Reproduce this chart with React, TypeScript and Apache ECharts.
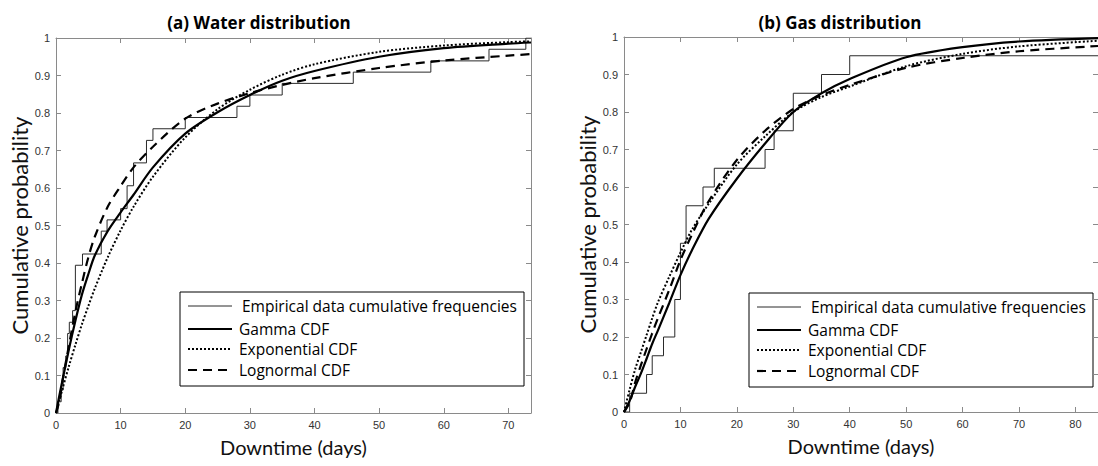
import React, { useEffect, useRef } from "react";
import * as echarts from "echarts";

const WATER_X_MAX = 73.5;
const GAS_X_MAX = 84;

// Empirical step data (downtime in days, cumulative frequency)
const waterEmpDays = [0, 0.3, 0.8, 1.1, 1.5, 1.8, 2.06, 2.57, 3.0, 4.1, 7.0, 7.9, 10.0, 11.0, 12.0, 14.0, 15.0, 20.0, 28.0, 30.0, 35.0, 46.0, 58.0, 67.0, 72.7];
const waterEmpProb = [0, 0.03, 0.061, 0.121, 0.152, 0.212, 0.242, 0.273, 0.394, 0.424, 0.485, 0.515, 0.545, 0.606, 0.667, 0.727, 0.758, 0.788, 0.818, 0.848, 0.879, 0.909, 0.939, 0.97, 1.0];

const gasEmpDays = [0, 1, 4, 5, 7, 9, 10, 11, 14, 16, 25, 26.6, 30, 35, 40];
const gasEmpProb = [0, 0.05, 0.1, 0.15, 0.2, 0.3, 0.45, 0.55, 0.6, 0.65, 0.7, 0.75, 0.85, 0.9, 0.95];

// Fitted CDF curves
const waterCurveDays = [0, 0.5, 1, 2, 3, 4, 5, 6, 8, 10, 12, 15, 20, 25, 30, 35, 40, 50, 60, 70, 73.5];
const waterGamma = [0, 0.045, 0.087, 0.17, 0.246, 0.315, 0.37, 0.42, 0.485, 0.535, 0.582, 0.655, 0.745, 0.802, 0.848, 0.886, 0.912, 0.95, 0.973, 0.985, 0.988];
const waterExp = [0, 0.033, 0.064, 0.125, 0.182, 0.236, 0.285, 0.332, 0.415, 0.487, 0.55, 0.63, 0.735, 0.81, 0.862, 0.902, 0.93, 0.963, 0.98, 0.989, 0.991];
const waterLogn = [0, 0.03, 0.085, 0.18, 0.27, 0.345, 0.415, 0.47, 0.55, 0.605, 0.655, 0.71, 0.785, 0.825, 0.853, 0.875, 0.893, 0.92, 0.94, 0.953, 0.957];

const gasCurveDays = [0, 1, 2, 3, 4, 5, 6, 8, 10, 12, 15, 20, 25, 30, 35, 40, 50, 60, 70, 84];
const gasGamma = [0, 0.03, 0.068, 0.103, 0.142, 0.182, 0.217, 0.29, 0.365, 0.43, 0.515, 0.622, 0.716, 0.8, 0.85, 0.888, 0.946, 0.973, 0.988, 0.997];
const gasExp = [0, 0.06, 0.115, 0.16, 0.205, 0.25, 0.292, 0.36, 0.425, 0.485, 0.555, 0.66, 0.735, 0.8, 0.84, 0.868, 0.922, 0.955, 0.975, 0.99];
const gasLogn = [0, 0.025, 0.08, 0.125, 0.168, 0.21, 0.25, 0.325, 0.405, 0.472, 0.562, 0.672, 0.75, 0.808, 0.845, 0.872, 0.918, 0.944, 0.962, 0.976];

const titles = ["(a) Water distribution", "(b) Gas distribution"];
const legendLabels = ["Empirical data cumulative frequencies", "Gamma CDF", "Exponential CDF", "Lognormal CDF"];

const zip = (xs: number[], ys: number[]) => xs.map((x, i) => [x, ys[i]]);

const FRAME = "#8a8a8a";
const LATO = "Lato, sans-serif";
const OPEN = "'Open Sans', sans-serif";
const TICKFONT = "'Liberation Sans', Arial, sans-serif";

const STYLES = [
  { color: "#2a2a2a", width: 1, type: "solid" as any },
  { color: "#000", width: 2.2, type: "solid" as any },
  { color: "#000", width: 2, type: [2, 2] as any },
  { color: "#000", width: 2.2, type: [9, 6] as any },
];

function xAxis(gridIndex: number, max: number, pos: "bottom" | "top") {
  const bottom = pos === "bottom";
  return {
    type: "value",
    gridIndex,
    min: 0,
    max,
    interval: 10,
    position: pos,
    name: bottom ? "Downtime (days)" : "",
    nameLocation: "middle",
    nameGap: 24,
    nameTextStyle: { fontSize: 20, fontFamily: LATO, color: "#111" },
    axisLine: { show: true, onZero: false, lineStyle: { color: FRAME, width: 1 } },
    axisTick: { show: true, inside: true, length: 5, lineStyle: { color: FRAME } },
    axisLabel: { show: bottom, showMaxLabel: false, fontSize: 11, color: "#333", margin: 6, fontFamily: TICKFONT },
    splitLine: { show: false },
  };
}

function yAxis(gridIndex: number, pos: "left" | "right") {
  const left = pos === "left";
  return {
    type: "value",
    gridIndex,
    min: 0,
    max: 1,
    interval: 0.1,
    position: pos,
    name: left ? "Cumulative probability" : "",
    nameLocation: "middle",
    nameGap: 26,
    nameTextStyle: { fontSize: 22, fontFamily: LATO, color: "#111" },
    axisLine: { show: true, onZero: false, lineStyle: { color: FRAME, width: 1 } },
    axisTick: { show: true, inside: true, length: 5, lineStyle: { color: FRAME } },
    axisLabel: { show: left, fontSize: 11, color: "#333", margin: 6, fontFamily: TICKFONT },
    splitLine: { show: false },
  };
}

function legendGraphic(x0: number, y0: number) {
  const rows = [14, 37, 57, 78];
  const children: any[] = [
    { type: "rect", shape: { x: 0, y: 0, width: 344, height: 94 }, style: { fill: "#fff", stroke: "#000", lineWidth: 1 } },
  ];
  legendLabels.forEach((label, i) => {
    const s = STYLES[i];
    children.push({
      type: "line",
      shape: { x1: 8, y1: rows[i], x2: 52, y2: rows[i] },
      style: { stroke: s.color, lineWidth: s.width, lineDash: Array.isArray(s.type) ? s.type : null },
    });
    children.push({
      type: "text",
      x: i === 0 ? 62 : 59,
      y: rows[i],
      style: {
        text: label,
        fontSize: 15.5,
        fontFamily: OPEN,
        fill: "#000",
        textAlign: "left",
        align: "left",
        textVerticalAlign: "middle",
        verticalAlign: "middle",
      },
    });
  });
  return { type: "group", x: x0, y: y0, z: 100, children };
}

function titleGraphic(text: string, cx: number) {
  return {
    type: "text",
    x: cx,
    y: 22,
    style: {
      text,
      fontSize: 17,
      fontWeight: "bold",
      fontFamily: OPEN,
      fill: "#000",
      textAlign: "center",
      align: "center",
      textVerticalAlign: "middle",
      verticalAlign: "middle",
    },
  };
}

function seriesFor(axisIdx: number, emp: number[][], curves: number[][][]) {
  const out: any[] = [
    {
      type: "line",
      name: legendLabels[0],
      xAxisIndex: axisIdx,
      yAxisIndex: axisIdx,
      data: emp,
      step: "end",
      symbol: "none",
      lineStyle: { ...STYLES[0] },
      z: 2,
    },
  ];
  curves.forEach((c, i) => {
    out.push({
      type: "line",
      name: legendLabels[i + 1],
      xAxisIndex: axisIdx,
      yAxisIndex: axisIdx,
      data: c,
      smooth: 0.3,
      symbol: "none",
      lineStyle: { ...STYLES[i + 1], cap: "butt" },
      z: 3,
    });
  });
  return out;
}

export default function App() {
  const ref = useRef<HTMLDivElement>(null);
  useEffect(() => {
    const chart = echarts.init(ref.current!, undefined, { renderer: "svg" });
    const option: any = {
      animation: false,
      backgroundColor: "#fff",
      grid: [
        { left: 56, right: 1098 - 531, top: 38, bottom: 466 - 413 },
        { left: 624, right: -2, top: 37, bottom: 466 - 412 },
      ],
      xAxis: [
        xAxis(0, WATER_X_MAX, "bottom"),
        xAxis(0, WATER_X_MAX, "top"),
        xAxis(1, GAS_X_MAX, "bottom"),
        xAxis(1, GAS_X_MAX, "top"),
      ],
      yAxis: [yAxis(0, "left"), yAxis(0, "right"), yAxis(1, "left"), yAxis(1, "right")],
      series: [
        ...seriesFor(0, [...zip(waterEmpDays, waterEmpProb), [WATER_X_MAX, waterEmpProb[waterEmpProb.length - 1]]], [
          zip(waterCurveDays, waterGamma),
          zip(waterCurveDays, waterExp),
          zip(waterCurveDays, waterLogn),
        ]),
        ...seriesFor(2, [...zip(gasEmpDays, gasEmpProb), [GAS_X_MAX, gasEmpProb[gasEmpProb.length - 1]]], [
          zip(gasCurveDays, gasGamma),
          zip(gasCurveDays, gasExp),
          zip(gasCurveDays, gasLogn),
        ]),
      ],
      graphic: [
        titleGraphic(titles[0], 259),
        titleGraphic(titles[1], 840),
        legendGraphic(180, 292),
        legendGraphic(749, 293),
      ],
    };
    chart.setOption(option);
    return () => chart.dispose();
  }, []);
  return (
    <div
      ref={ref}
      style={{ position: "fixed", left: 0, top: 0, width: 1098, height: 466, background: "#fff" }}
    />
  );
}
